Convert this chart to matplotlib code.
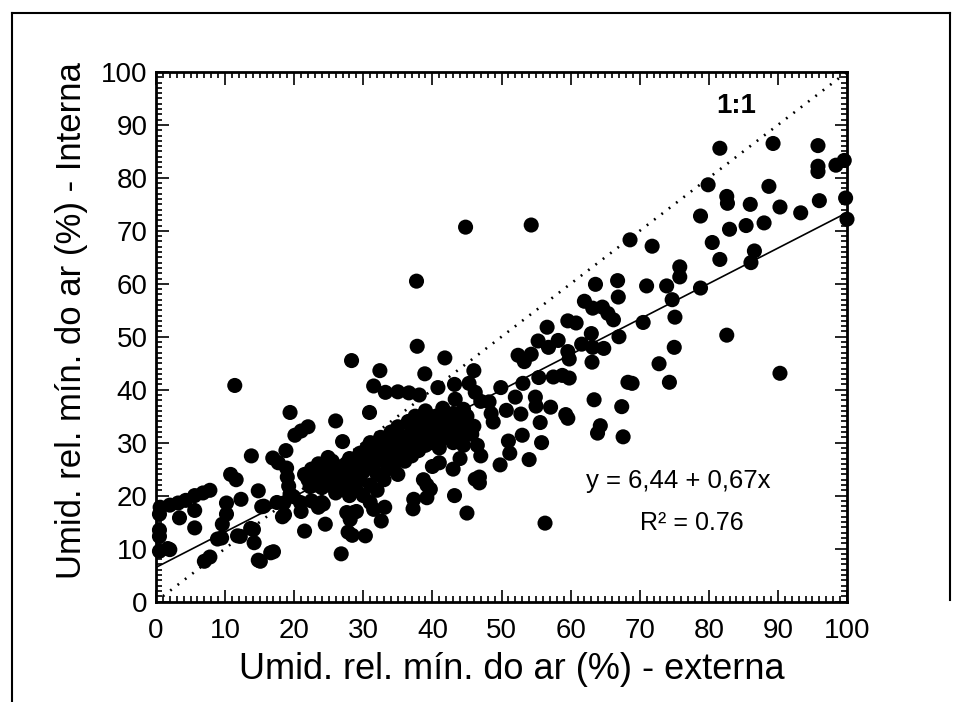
import matplotlib
matplotlib.use("Agg")
import matplotlib.pyplot as plt
from matplotlib import font_manager
from matplotlib.lines import Line2D
from matplotlib.ticker import MultipleLocator
import numpy as np

# ---------------- data ----------------
upper_x = [81.6, 89.3, 95.8, 95.8, 95.8, 98.4, 99.6, 79.9, 88.7, 82.6, 82.7, 86.0, 90.3, 93.3,
           96.0, 99.8, 100.0, 78.8, 85.4, 88.0, 83.0, 80.5, 81.6, 86.6, 86.1, 44.8, 54.3, 37.7,
           68.6, 71.8, 75.8, 75.8, 78.8, 71.0, 73.9, 74.7, 63.6, 66.8, 66.9, 62.0, 63.2, 64.6,
           65.4, 66.2, 75.1, 70.5, 67.0, 82.6, 63.0, 61.6, 63.2, 64.8, 75.0, 63.1, 72.8, 68.3,
           68.9, 74.3, 90.3, 63.4, 67.4, 64.3, 63.9, 67.6, 56.3]
upper_y = [85.6, 86.5, 86.1, 82.2, 81.2, 82.4, 83.3, 78.7, 78.4, 76.5, 75.2, 75.0, 74.5, 73.4,
           75.7, 76.2, 72.2, 72.8, 71.0, 71.5, 70.3, 67.8, 64.6, 66.2, 64.0, 70.7, 71.1, 60.5,
           68.3, 67.1, 63.2, 61.3, 59.2, 59.6, 59.6, 57.0, 59.9, 60.6, 57.5, 56.7, 55.4, 55.6,
           54.4, 53.2, 53.7, 52.7, 50.0, 50.3, 50.6, 48.6, 48.0, 47.8, 48.0, 45.2, 44.9, 41.4,
           41.2, 41.4, 43.1, 38.1, 36.8, 33.2, 31.8, 31.1, 14.8]

mid_x = [56.6, 55.3, 56.8, 58.2, 52.4, 54.3, 53.3, 59.6, 60.8, 59.6, 59.8, 57.5, 58.8, 59.8,
         55.4, 53.1, 49.9, 52.0, 54.9, 55.0, 57.1, 59.3, 59.6, 50.7, 52.8, 55.6, 48.2, 48.5,
         48.8, 53.0, 55.8, 51.0, 51.2, 49.8, 54.0, 46.8, 46.8, 45.0, 43.2, 39.2, 39.2, 37.2,
         33.1, 32.6, 29.0, 27.8, 28.4, 30.3, 26.8, 24.5, 21.5, 21.0, 18.3, 28.3, 32.4, 37.8,
         38.9, 41.8, 30.9, 31.5, 33.2, 35.0, 36.6, 38.1, 40.8, 43.2, 45.3, 46.0, 46.2, 47.0,
         43.3, 44.5, 46.0, 45.7, 46.2, 27.6, 40.0, 41.0, 38.7, 37.3, 39.7, 43.0, 44.0, 46.5,
         47.0, 31.0, 31.5, 28.6, 28.1, 26.0, 27.0, 24.9]
mid_y = [51.8, 49.2, 48.0, 49.3, 46.5, 46.7, 45.3, 53.0, 52.6, 47.2, 45.8, 42.4, 42.7, 42.2,
         42.3, 41.2, 40.4, 38.6, 38.6, 36.9, 36.7, 35.3, 34.6, 36.1, 35.4, 33.8, 37.7, 35.5,
         33.9, 31.4, 30.0, 30.3, 28.0, 25.8, 26.8, 23.5, 22.4, 16.7, 20.0, 22.0, 19.6, 17.5,
         17.8, 15.2, 17.0, 13.1, 12.5, 12.4, 9.0, 14.6, 13.3, 17.0, 16.0, 45.5, 43.6, 48.2,
         43.0, 46.0, 35.7, 40.7, 39.5, 39.6, 39.4, 39.0, 40.4, 41.0, 41.2, 43.6, 39.5, 37.8,
         38.2, 36.3, 33.1, 31.6, 23.1, 16.8, 25.5, 26.2, 23.0, 19.3, 21.2, 25.0, 27.0, 29.5,
         27.5, 18.7, 17.4, 16.8, 15.5, 34.1, 30.2, 27.2]

low_x = [16.6, 14.8, 14.2, 13.7, 11.8, 7.0, 7.8, 8.9, 9.6, 10.2, 10.2, 5.6, 5.6, 3.4, 1.7,
         0.5, 0.5, 0.5, 0.5, 0.6, 2.0, 3.2, 4.3, 5.6, 6.8, 7.8, 10.8, 11.6, 11.4, 12.3, 13.8,
         14.8, 15.3, 16.9, 17.7, 18.5, 18.6, 18.9, 19.0, 19.2, 19.4, 18.8, 19.4, 20.1, 21.0,
         22.0, 22.5, 23.5, 24.2, 20.9, 19.9, 22.3, 24.0, 9.5, 12.2, 14.1, 17.0, 15.1, 2.0,
         15.6, 17.5]
low_y = [9.2, 7.8, 11.1, 13.8, 12.4, 7.6, 8.4, 11.8, 14.6, 16.5, 18.6, 13.9, 17.2, 15.8, 10.0,
         9.5, 12.3, 13.5, 16.5, 17.8, 18.2, 18.6, 19.1, 20.0, 20.5, 21.0, 24.0, 23.0, 40.8,
         19.3, 27.5, 20.9, 17.9, 27.1, 26.2, 18.6, 16.4, 25.2, 23.5, 21.8, 20.3, 28.5, 35.7,
         31.4, 32.2, 33.0, 19.0, 17.8, 18.4, 18.7, 19.8, 21.7, 18.7, 12.0, 12.3, 13.6, 9.4,
         7.6, 9.8, 18.0, 18.7]

cluster_x = [21.5, 22, 22.5, 23, 23, 23.5, 24, 24, 24.5, 25, 25, 25.5, 26, 26, 26.5, 27, 27,
             27.5, 28, 28, 28, 28.5, 29, 29, 29.5, 29.5, 30, 30, 30, 30.5, 31, 31, 31, 31.5,
             32, 32, 32, 32.5, 32.5, 33, 33, 33.5, 33.5, 34, 34, 34.5, 35, 35, 35, 35.5, 36,
             36, 36.5, 36.5, 37, 37, 37.5, 37.5, 38, 38, 38.5, 39, 39, 39, 39.5, 40, 40, 40.5,
             40.5, 41, 41, 41.5, 42, 42, 42.5, 43, 43, 43.5, 44, 44, 44.5, 45, 45]
cluster_y = [24, 23, 25, 22, 24.5, 26, 21.5, 23.5, 25, 22, 24, 26.5, 20.5, 23, 25, 21.5, 24,
             26, 20, 22.5, 27, 24.5, 21, 26, 23, 28, 20, 24.5, 27, 29, 22, 25.5, 30, 27.5,
             21, 24, 26.5, 29, 31, 23, 27.5, 25, 30, 28.5, 32, 26, 24, 30.5, 33, 28, 26.5,
             31, 29, 34, 27.5, 32.5, 30, 35, 28.5, 33, 31, 29.5, 34, 36, 32, 30, 33.5, 31.5,
             35, 29, 33, 36.5, 31, 34.5, 32.5, 30, 35.5, 33, 31.5, 34, 29.5, 32.5, 35]

fit_a, fit_b = 6.44, 0.67
x_ticks = [0, 10, 20, 30, 40, 50, 60, 70, 80, 90, 100]
y_ticks = [0, 10, 20, 30, 40, 50, 60, 70, 80, 90, 100]
xlabel = "Umid. rel. mín. do ar (%) - externa"
ylabel = "Umid. rel. mín. do ar (%) - Interna"
eq_text = "y = 6,44 + 0,67x"
r2_text = "R² = 0.76"
one_one = "1:1"

# ---------------- style ----------------
names = {f.name for f in font_manager.fontManager.ttflist}
fam = "Liberation Sans Narrow" if "Liberation Sans Narrow" in names else "Liberation Sans"
plt.rcParams["font.family"] = [fam, "DejaVu Sans"]

fig = plt.figure(figsize=(9.6, 7.02), dpi=100)
ax = fig.add_axes([156 / 960, 1 - 601.5 / 702, (847 - 156) / 960, (601.5 - 72) / 702])

xs = upper_x + mid_x + low_x + cluster_x
ys = upper_y + mid_y + low_y + cluster_y
ax.scatter(xs, ys, s=118, c="black", edgecolors="none", zorder=3, clip_on=False)

line_x = np.array([0, 100])
ax.plot(line_x, fit_a + fit_b * line_x, color="black", lw=1.2, zorder=2)
ax.plot([1, 100], [1, 100], color="black", lw=1.9, linestyle=(0, (0.7, 2.8)), zorder=2)

ax.set_xlim(0, 100)
ax.set_ylim(0, 100)
ax.set_xticks(x_ticks)
ax.set_yticks(y_ticks)
ax.xaxis.set_minor_locator(MultipleLocator(1))
ax.yaxis.set_minor_locator(MultipleLocator(1))
ax.tick_params(which="both", direction="in", top=True, right=True, width=1.2, labelsize=20)
ax.tick_params(which="major", length=9)
ax.tick_params(axis="x", which="major", pad=12)
ax.tick_params(axis="y", which="major", pad=6)
ax.tick_params(which="minor", length=4.5)
for sp in ax.spines.values():
    sp.set_linewidth(2)

ax.set_xlabel(xlabel, fontsize=26)
ax.set_ylabel(ylabel, fontsize=25)
ax.xaxis.set_label_coords(0.515, -0.095)
ax.yaxis.set_label_coords(-0.098, 0.53)

ax.text(83.9, 93.5, one_one, fontsize=20, fontweight="bold", ha="center", va="center")
ax.text(75.6, 22.7, eq_text, fontsize=18.5, ha="center", va="center")
ax.text(77.6, 14.9, r2_text, fontsize=18, ha="center", va="center")

# scanned-page frame
fig.add_artist(Line2D([12 / 960, 12 / 960], [0, 1 - 13 / 702], color="black", lw=1.5, transform=fig.transFigure))
fig.add_artist(Line2D([12 / 960, 950 / 960], [1 - 13 / 702, 1 - 13 / 702], color="black", lw=1.5, transform=fig.transFigure))
fig.add_artist(Line2D([950 / 960, 950 / 960], [1 - 13 / 702, 1 - 600 / 702], color="black", lw=1.5, transform=fig.transFigure))

fig.savefig("out.png", dpi=100)
